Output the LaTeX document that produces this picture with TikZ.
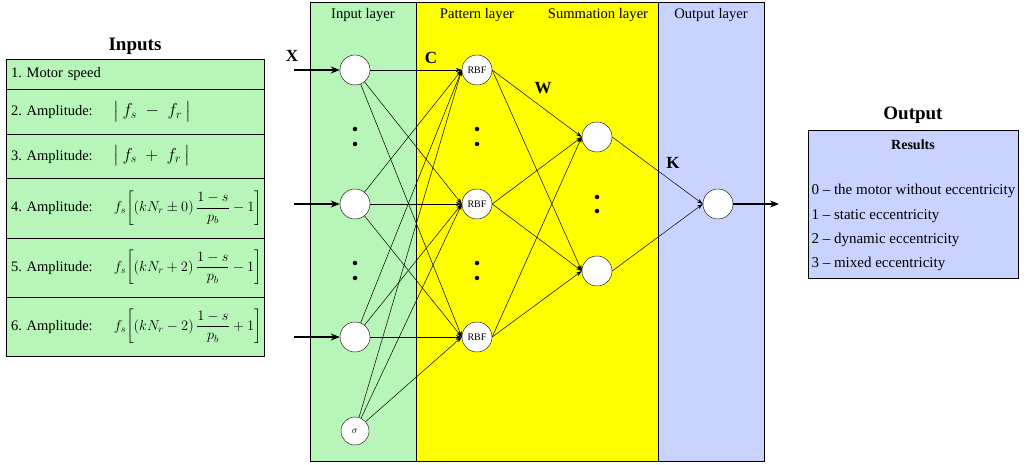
\documentclass[tikz,border=0pt]{standalone}
\usepackage{amsmath}
\usepackage{fontspec}
\setmainfont{Liberation Serif}
\usetikzlibrary{arrows.meta}
\frenchspacing

\definecolor{layergreen}{RGB}{184,245,184}
\definecolor{layeryellow}{RGB}{255,255,0}
\definecolor{layerblue}{RGB}{200,212,255}

\tikzset{
  neuron/.style={circle, draw, fill=white, minimum size=30pt, inner sep=0pt, font=\fontsize{10}{12}\selectfont},
  inrow/.style={draw, fill=layergreen, minimum width=258pt, text width=248pt, align=left, inner sep=5pt, font=\fontsize{14.5}{17}\selectfont},
  vdot/.style={circle, fill, inner sep=0pt, minimum size=4.5pt},
  conn/.style={-{Stealth[length=6pt,width=4pt]}, line width=0.5pt},
  feed/.style={-{Stealth[length=9pt,width=7pt]}, line width=1.4pt},
  layertitle/.style={font=\fontsize{14.6}{17}\selectfont},
  weight/.style={font=\bfseries\fontsize{17}{19}\selectfont},
  restext/.style={anchor=west, font=\fontsize{15}{17}\selectfont}
}
\newcommand{\bigmath}[1]{{\fontsize{17.5}{20}\selectfont$#1$}}

\begin{document}
\begin{tikzpicture}[x=1pt, y=-1pt]
  \useasboundingbox (0,0) rectangle (1026,465);

  % layer panels
  \fill[layergreen] (310,2) rectangle (416,461);
  \fill[layeryellow] (416,2) rectangle (658,461);
  \fill[layerblue] (658,2) rectangle (764,461);
  \draw (310,2) rectangle (764,461);
  \draw (416,2) -- (416,461);
  \draw (658,2) -- (658,461);
  \node[layertitle] at (363,15) {Input layer};
  \node[layertitle] at (477,15) {Pattern layer};
  \node[layertitle] at (598,15) {Summation layer};
  \node[layertitle] at (711,15) {Output layer};

  % inputs table
  \node[font=\bfseries\fontsize{19}{22}\selectfont] (inTitle) at (135,46) {Inputs};
  \node[inrow, minimum height=30pt] (row1) at (135,74) {1. Motor speed};
  \node[inrow, minimum height=45pt] (row2) at (135,111.5)
    {\makebox[103pt][l]{2. Amplitude:}\bigmath{\bigl|\,f_s \;-\; f_r\,\bigr|}};
  \node[inrow, minimum height=44pt] (row3) at (135,156)
    {\makebox[103pt][l]{3. Amplitude:}\bigmath{\bigl|\,f_s \;+\; f_r\,\bigr|}};
  \node[inrow, minimum height=60pt] (row4) at (135,208)
    {\makebox[103pt][l]{4. Amplitude:}$f_s\!\left[\left(kN_r\pm0\right)\dfrac{1-s}{p_b}-1\right]$};
  \node[inrow, minimum height=59pt] (row5) at (135,267.5)
    {\makebox[103pt][l]{5. Amplitude:}$f_s\!\left[\left(kN_r+2\right)\dfrac{1-s}{p_b}-1\right]$};
  \node[inrow, minimum height=59pt] (row6) at (135,326.5)
    {\makebox[103pt][l]{6. Amplitude:}$f_s\!\left[\left(kN_r-2\right)\dfrac{1-s}{p_b}+1\right]$};

  % neurons
  \node[neuron] (in1) at (355,70) {};
  \node[neuron] (in2) at (355,204) {};
  \node[neuron] (in3) at (355,337) {};
  \node[neuron, minimum size=28pt] (sigma) at (355,431) {$\sigma$};
  \node[neuron] (rbf1) at (477,70) {RBF};
  \node[neuron] (rbf2) at (477,204) {RBF};
  \node[neuron] (rbf3) at (477,337) {RBF};
  \node[neuron] (sum1) at (597,137) {};
  \node[neuron] (sum2) at (597,271) {};
  \node[neuron] (out) at (718,204) {};

  % dots
  \foreach \x in {355,477} {
    \node[vdot] at (\x,129) {};
    \node[vdot] at (\x,144) {};
    \node[vdot] at (\x,263) {};
    \node[vdot] at (\x,278) {};
  }
  \node[vdot] at (597,197) {};
  \node[vdot] at (597,211) {};

  % connections
  \foreach \a in {in1,in2,in3,sigma}
    \foreach \b in {rbf1,rbf2,rbf3}
      \draw[conn] (\a) -- (\b.west);
  \foreach \a in {rbf1,rbf2,rbf3}
    \foreach \b in {sum1,sum2}
      \draw[conn] (\a.east) -- (\b.west);
  \foreach \a in {sum1,sum2}
    \draw[conn] (\a.east) -- (out.west);

  % external inputs and output
  \coordinate (x1) at (294,70);
  \coordinate (x2) at (294,204);
  \coordinate (x3) at (294,337);
  \coordinate (y) at (779,204);
  \foreach \i in {1,2,3}
    \draw[feed] (x\i) -- (in\i);
  \draw[feed] (out) -- (y);

  % weight labels
  \node[weight] at (292,56) {X};
  \node[weight] at (431,58) {C};
  \node[weight] at (543,88) {W};
  \node[weight] at (673,163) {K};

  % output box
  \node[font=\bfseries\fontsize{19}{22}\selectfont] (outTitle) at (913,115) {Output};
  \node[draw, fill=layerblue, minimum width=210pt, minimum height=148pt] (results) at (913,204) {};
  \node[font=\bfseries\fontsize{14}{17}\selectfont] at (913,145) {Results};
  \node[restext] (res0) at (808,191) {0 -- the motor without eccentricity};
  \node[restext] (res1) at (808,216) {1 -- static eccentricity};
  \node[restext] (res2) at (808,240) {2 -- dynamic eccentricity};
  \node[restext] (res3) at (808,264) {3 -- mixed eccentricity};
\end{tikzpicture}
\end{document}
